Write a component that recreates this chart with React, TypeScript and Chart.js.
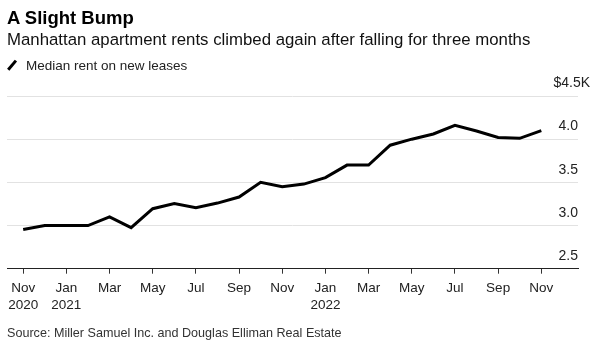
import React, { useEffect, useRef } from "react";
import { Chart, registerables } from "chart.js";

Chart.register(...registerables);

// ---- data ----
const months = [
  "Nov 2020", "Dec 2020", "Jan 2021", "Feb 2021", "Mar 2021", "Apr 2021", "May 2021",
  "Jun 2021", "Jul 2021", "Aug 2021", "Sep 2021", "Oct 2021", "Nov 2021", "Dec 2021",
  "Jan 2022", "Feb 2022", "Mar 2022", "Apr 2022", "May 2022", "Jun 2022", "Jul 2022",
  "Aug 2022", "Sep 2022", "Oct 2022", "Nov 2022",
];
// Median rent on new leases, $K
const medianRentK = [
  2.955, 3.0, 3.0, 3.0, 3.1, 2.975, 3.195,
  3.255, 3.205, 3.26, 3.33, 3.5, 3.45, 3.48,
  3.555, 3.7, 3.7, 3.93, 4.0, 4.06, 4.16,
  4.095, 4.02, 4.01, 4.1,
];
const xTickIndices = [0, 2, 4, 6, 8, 10, 12, 14, 16, 18, 20, 22, 24];
const xTickLabels = [
  ["Nov", "2020"], ["Jan", "2021"], ["Mar"], ["May"], ["Jul"], ["Sep"], ["Nov"],
  ["Jan", "2022"], ["Mar"], ["May"], ["Jul"], ["Sep"], ["Nov"],
];
const yTickValues = [2.5, 3.0, 3.5, 4.0, 4.5];
const yTopLabel = "$4.5K";

const FONT = "'Liberation Sans', Arial, Helvetica, sans-serif";

export default function App() {
  const ref = useRef<HTMLCanvasElement | null>(null);

  useEffect(() => {
    if (!ref.current) return;
    const chart = new Chart(ref.current, {
      type: "line",
      data: {
        datasets: [
          {
            label: "Median rent on new leases",
            data: medianRentK.map((v, i) => ({ x: i, y: v })),
            borderColor: "#000",
            borderWidth: 3,
            pointRadius: 0,
            tension: 0,
            fill: false,
          },
        ],
      },
      options: {
        responsive: false,
        animation: false,
        events: [],
        layout: { padding: { left: 7, right: -2, top: 96, bottom: 27.5 } },
        plugins: {
          legend: { display: false },
          title: { display: false },
          tooltip: { enabled: false },
        },
        scales: {
          x: {
            type: "linear",
            min: -0.75,
            max: 25.7,
            afterBuildTicks: (axis: any) => {
              axis.ticks = xTickIndices.map((v) => ({ value: v }));
            },
            grid: {
              display: true,
              drawOnChartArea: false,
              drawTicks: true,
              tickLength: 5,
              color: "#333",
              tickColor: "#333",
            },
            border: { display: true, color: "#222", width: 1 },
            ticks: {
              autoSkip: false,
              maxRotation: 0,
              padding: 6.5,
              color: "#222",
              font: { family: FONT, size: 13.5, lineHeight: 1.215 },
              callback: (value: any) => {
                const i = xTickIndices.indexOf(Number(value));
                return i >= 0 ? xTickLabels[i] : "";
              },
            },
          },
          y: {
            type: "linear",
            position: "right",
            weight: 0,
            min: 2.5,
            max: 4.5,
            afterBuildTicks: (axis: any) => {
              axis.ticks = yTickValues.map((v) => ({ value: v }));
            },
            grid: { display: true, drawTicks: false, color: "#e2e2e2", lineWidth: 1 },
            border: { display: false },
            ticks: {
              autoSkip: false,
              mirror: true,
              padding: 0,
              color: "#222",
              font: { family: FONT, size: 14, lineHeight: 1.8 },
              callback: (value: any) =>
                Number(value) === 4.5 ? "" : [Number(value).toFixed(1), ""],
            },
          },
          y2: {
            type: "linear",
            position: "right",
            weight: 1,
            min: 2.5,
            max: 4.5,
            afterBuildTicks: (axis: any) => {
              axis.ticks = yTickValues.map((v) => ({ value: v }));
            },
            grid: { display: false, drawTicks: false },
            border: { display: false },
            ticks: {
              autoSkip: false,
              mirror: true,
              padding: 12,
              color: "#222",
              font: { family: FONT, size: 14, lineHeight: 1.8 },
              callback: (value: any) => (Number(value) === 4.5 ? [yTopLabel, ""] : ""),
            },
          },
        },
      },
    });
    return () => chart.destroy();
  }, []);

  const base: React.CSSProperties = {
    position: "absolute",
    left: 7,
    fontFamily: FONT,
    whiteSpace: "nowrap",
    lineHeight: 1,
    margin: 0,
  };

  return (
    <div style={{ position: "absolute", left: 0, top: 0, width: 600, height: 347, background: "#fff", overflow: "hidden" }}>
      <canvas ref={ref} width={600} height={347} style={{ position: "absolute", left: 0, top: 0 }} />
      <div style={{ ...base, top: 8.5, fontSize: 18.5, fontWeight: 700, color: "#000" }}>A Slight Bump</div>
      <div style={{ ...base, top: 32.4, fontSize: 16.8, color: "#111" }}>
        Manhattan apartment rents climbed again after falling for three months
      </div>
      <div
        style={{
          position: "absolute",
          left: 5.5,
          top: 64.3,
          width: 11.5,
          height: 2.6,
          background: "#000",
          transform: "rotate(-50deg)",
        }}
      />
      <div style={{ ...base, left: 26, top: 59.3, fontSize: 13.5, color: "#222" }}>Median rent on new leases</div>
      <div style={{ ...base, top: 327, fontSize: 12.6, color: "#333" }}>
        Source: Miller Samuel Inc. and Douglas Elliman Real Estate
      </div>
    </div>
  );
}
